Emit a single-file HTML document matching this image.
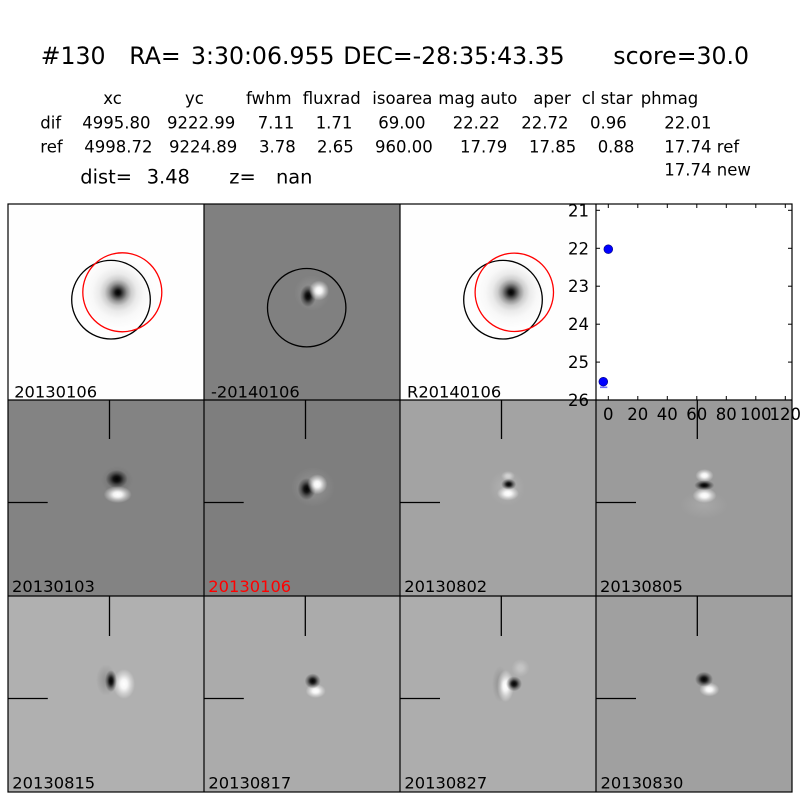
<!DOCTYPE html>
<html>
<head>
<meta charset="utf-8">
<style>
html,body{margin:0;padding:0;background:#fff;}
svg{display:block;}
text{font-family:"DejaVu Sans","Liberation Sans",sans-serif;fill:#000;}
</style>
</head>
<body>
<svg width="800" height="800" viewBox="0 0 800 800" xmlns="http://www.w3.org/2000/svg">
<defs>
  <radialGradient id="star">
    <stop offset="0" stop-color="#000"/>
    <stop offset="0.07" stop-color="#141414"/>
    <stop offset="0.15" stop-color="#505050"/>
    <stop offset="0.25" stop-color="#969696"/>
    <stop offset="0.37" stop-color="#cdcdcd"/>
    <stop offset="0.52" stop-color="#eaeaea"/>
    <stop offset="0.72" stop-color="#f8f8f8"/>
    <stop offset="1" stop-color="#fefefe"/>
  </radialGradient>
  <radialGradient id="dk">
    <stop offset="0" stop-color="#000" stop-opacity="1"/>
    <stop offset="0.3" stop-color="#000" stop-opacity="0.85"/>
    <stop offset="0.65" stop-color="#000" stop-opacity="0.35"/>
    <stop offset="1" stop-color="#000" stop-opacity="0"/>
  </radialGradient>
  <radialGradient id="lt">
    <stop offset="0" stop-color="#fff" stop-opacity="1"/>
    <stop offset="0.3" stop-color="#fff" stop-opacity="0.9"/>
    <stop offset="0.65" stop-color="#fff" stop-opacity="0.4"/>
    <stop offset="1" stop-color="#fff" stop-opacity="0"/>
  </radialGradient>
  <radialGradient id="halo">
    <stop offset="0" stop-color="#000" stop-opacity="0.18"/>
    <stop offset="1" stop-color="#000" stop-opacity="0"/>
  </radialGradient>
  <radialGradient id="lhalo">
    <stop offset="0" stop-color="#fff" stop-opacity="0.18"/>
    <stop offset="1" stop-color="#fff" stop-opacity="0"/>
  </radialGradient>
</defs>

<!-- Header text -->
<g font-size="23.6">
  <text x="40.7" y="64">#130</text>
  <text x="129.3" y="64">RA=</text>
  <text x="191" y="64">3:30:06.955</text>
  <text x="343.3" y="64">DEC=-28:35:43.35</text>
  <text x="613.3" y="64">score=30.0</text>
</g>
<g font-size="16.5">
  <text x="103.3" y="104">xc</text>
  <text x="185" y="104">yc</text>
  <text x="246" y="104">fwhm</text>
  <text x="302.7" y="104">fluxrad</text>
  <text x="372.3" y="104">isoarea</text>
  <text x="438.3" y="104">mag auto</text>
  <text x="533.3" y="104">aper</text>
  <text x="581.7" y="104">cl star</text>
  <text x="640.7" y="104">phmag</text>

  <text x="40.3" y="128.3">dif</text>
  <text x="82.3" y="128.3">4995.80</text>
  <text x="167" y="128.3">9222.99</text>
  <text x="257.7" y="128.3">7.11</text>
  <text x="315.7" y="128.3">1.71</text>
  <text x="378.3" y="128.3">69.00</text>
  <text x="452.7" y="128.3">22.22</text>
  <text x="521.3" y="128.3">22.72</text>
  <text x="590" y="128.3">0.96</text>
  <text x="664.3" y="128.3">22.01</text>

  <text x="40.3" y="152.7">ref</text>
  <text x="84.3" y="152.7">4998.72</text>
  <text x="169" y="152.7">9224.89</text>
  <text x="259" y="152.7">3.78</text>
  <text x="317" y="152.7">2.65</text>
  <text x="375" y="152.7">960.00</text>
  <text x="460" y="152.7">17.79</text>
  <text x="529" y="152.7">17.85</text>
  <text x="597.7" y="152.7">0.88</text>
  <text x="664.3" y="152.7">17.74 ref</text>

  <text x="664.3" y="175.7">17.74 new</text>
</g>
<g font-size="19.4">
  <text x="80.3" y="183.3">dist=</text>
  <text x="146.7" y="183.3">3.48</text>
  <text x="229.3" y="183.3">z=</text>
  <text x="276" y="183.3">nan</text>
</g>

<!-- Row 1 -->
<rect x="8" y="204" width="196" height="196" fill="#fefefe"/>
<circle cx="118" cy="292.5" r="36" fill="url(#star)"/>
<circle cx="111" cy="299.7" r="39.3" fill="none" stroke="#000" stroke-width="1.3"/>
<circle cx="122.3" cy="292.3" r="39.5" fill="none" stroke="#f00" stroke-width="1.3"/>

<rect x="204" y="204" width="196" height="196" fill="#808080"/>
<ellipse cx="312" cy="293" rx="18" ry="18" fill="url(#lhalo)"/>
<ellipse cx="308" cy="296" rx="8" ry="11" fill="url(#dk)"/>
<ellipse cx="319" cy="290.5" rx="10" ry="10" fill="url(#lt)"/>
<circle cx="306.7" cy="307.7" r="39.2" fill="none" stroke="#000" stroke-width="1.3"/>

<rect x="400" y="204" width="196" height="196" fill="#fefefe"/>
<circle cx="511" cy="292.3" r="36" fill="url(#star)"/>
<circle cx="503" cy="299.7" r="39.3" fill="none" stroke="#000" stroke-width="1.3"/>
<circle cx="514.3" cy="292.3" r="39.2" fill="none" stroke="#f00" stroke-width="1.3"/>

<!-- Row 2 -->
<rect x="8" y="400" width="196" height="196" fill="#838383"/>
<ellipse cx="117" cy="480" rx="16" ry="14" fill="url(#halo)"/>
<ellipse cx="116.7" cy="479" rx="11" ry="9" fill="url(#dk)"/>
<ellipse cx="117.7" cy="494.5" rx="14" ry="8.5" fill="url(#lt)"/>

<rect x="204" y="400" width="196" height="196" fill="#7e7e7e"/>
<ellipse cx="313" cy="487" rx="22" ry="20" fill="url(#lhalo)"/>
<ellipse cx="306.7" cy="489" rx="9" ry="11" fill="url(#dk)"/>
<ellipse cx="317.3" cy="484.3" rx="10" ry="10" fill="url(#lt)"/>

<rect x="400" y="400" width="196" height="196" fill="#a3a3a3"/>
<ellipse cx="507" cy="488" rx="18" ry="18" fill="url(#lhalo)"/>
<ellipse cx="508" cy="476" rx="7" ry="5" fill="url(#lt)" opacity="0.5"/>
<ellipse cx="508" cy="493.5" rx="11" ry="7" fill="url(#lt)"/>
<ellipse cx="508.7" cy="484.3" rx="7.5" ry="5.5" fill="url(#dk)"/>

<rect x="596" y="400" width="196" height="196" fill="#9b9b9b"/>
<ellipse cx="704" cy="505" rx="24" ry="14" fill="url(#lhalo)" opacity="0.7"/>
<ellipse cx="704.5" cy="475.5" rx="9" ry="6.5" fill="url(#lt)"/>
<ellipse cx="704.5" cy="495.5" rx="12" ry="7.5" fill="url(#lt)"/>
<ellipse cx="704.3" cy="485.3" rx="10" ry="5" fill="url(#dk)"/>

<!-- Row 3 -->
<rect x="8" y="596" width="196" height="196" fill="#b0b0b0"/>
<ellipse cx="106" cy="680" rx="10" ry="16" fill="url(#halo)"/>
<ellipse cx="124" cy="684" rx="11" ry="15" fill="url(#lt)"/>
<ellipse cx="111" cy="681" rx="6" ry="11" fill="url(#dk)"/>

<rect x="204" y="596" width="196" height="196" fill="#ababab"/>
<ellipse cx="315.7" cy="691" rx="10" ry="7" fill="url(#lt)"/>
<ellipse cx="312.7" cy="681" rx="8" ry="7.5" fill="url(#dk)"/>

<rect x="400" y="596" width="196" height="196" fill="#adadad"/>
<ellipse cx="500" cy="684" rx="8" ry="18" fill="url(#halo)"/>
<ellipse cx="520.5" cy="668" rx="9" ry="9" fill="url(#lt)" opacity="0.3"/>
<ellipse cx="505.5" cy="686" rx="8.5" ry="16" fill="url(#lt)"/>
<ellipse cx="514" cy="683.8" rx="8" ry="7.5" fill="url(#dk)"/>

<rect x="596" y="596" width="196" height="196" fill="#a0a0a0"/>
<ellipse cx="709.3" cy="689.5" rx="10" ry="7" fill="url(#lt)"/>
<ellipse cx="704" cy="679.3" rx="9" ry="7.5" fill="url(#dk)"/>

<!-- Crosshairs -->
<g stroke="#000" stroke-width="1.3">
  <line x1="109.5" y1="400" x2="109.5" y2="439"/>
  <line x1="8" y1="502.5" x2="47.7" y2="502.5"/>
  <line x1="305.5" y1="400" x2="305.5" y2="439"/>
  <line x1="204" y1="502.5" x2="243.7" y2="502.5"/>
  <line x1="501.5" y1="400" x2="501.5" y2="439"/>
  <line x1="400" y1="502.5" x2="440" y2="502.5"/>
  <line x1="697.3" y1="400" x2="697.3" y2="439"/>
  <line x1="596" y1="502.5" x2="636" y2="502.5"/>

  <line x1="109.5" y1="596" x2="109.5" y2="636"/>
  <line x1="8" y1="698.5" x2="47.8" y2="698.5"/>
  <line x1="305.3" y1="596" x2="305.3" y2="636"/>
  <line x1="204" y1="698.5" x2="243.8" y2="698.5"/>
  <line x1="501.3" y1="596" x2="501.3" y2="636"/>
  <line x1="400" y1="698.5" x2="440" y2="698.5"/>
  <line x1="697.3" y1="596" x2="697.3" y2="636"/>
  <line x1="596" y1="698.5" x2="636" y2="698.5"/>
</g>

<!-- Plot panel D -->
<rect x="596" y="204" width="196" height="196" fill="#fff"/>
<line x1="600" y1="387.3" x2="607.3" y2="387.3" stroke="#6f6fff" stroke-width="1.6"/>
<circle cx="608.3" cy="249.2" r="4.4" fill="#0000ff" stroke="#00007a" stroke-width="0.6"/>
<circle cx="603.3" cy="381.7" r="4.4" fill="#0000ff" stroke="#00007a" stroke-width="0.6"/>
<g stroke="#000" stroke-width="1">
  <line x1="596" y1="210.3" x2="600" y2="210.3"/><line x1="792" y1="210.3" x2="788" y2="210.3"/>
  <line x1="596" y1="248.3" x2="600" y2="248.3"/><line x1="792" y1="248.3" x2="788" y2="248.3"/>
  <line x1="596" y1="286.2" x2="600" y2="286.2"/><line x1="792" y1="286.2" x2="788" y2="286.2"/>
  <line x1="596" y1="324.2" x2="600" y2="324.2"/><line x1="792" y1="324.2" x2="788" y2="324.2"/>
  <line x1="596" y1="362.1" x2="600" y2="362.1"/><line x1="792" y1="362.1" x2="788" y2="362.1"/>
  <line x1="608.3" y1="204" x2="608.3" y2="208"/><line x1="608.3" y1="400" x2="608.3" y2="396"/>
  <line x1="637.8" y1="204" x2="637.8" y2="208"/><line x1="637.8" y1="400" x2="637.8" y2="396"/>
  <line x1="667.3" y1="204" x2="667.3" y2="208"/><line x1="667.3" y1="400" x2="667.3" y2="396"/>
  <line x1="696.8" y1="204" x2="696.8" y2="208"/><line x1="696.8" y1="400" x2="696.8" y2="396"/>
  <line x1="726.3" y1="204" x2="726.3" y2="208"/><line x1="726.3" y1="400" x2="726.3" y2="396"/>
  <line x1="755.8" y1="204" x2="755.8" y2="208"/><line x1="755.8" y1="400" x2="755.8" y2="396"/>
  <line x1="785.3" y1="204" x2="785.3" y2="208"/><line x1="785.3" y1="400" x2="785.3" y2="396"/>
</g>

<!-- Grid frames -->
<g stroke="#000" stroke-width="1.2" fill="none">
  <rect x="8" y="204" width="784" height="588"/>
  <line x1="8" y1="400" x2="792" y2="400"/>
  <line x1="8" y1="596" x2="792" y2="596"/>
  <line x1="204" y1="204" x2="204" y2="792"/>
  <line x1="400" y1="204" x2="400" y2="792"/>
  <line x1="596" y1="204" x2="596" y2="792"/>
</g>

<!-- Plot tick labels -->
<g font-size="16.5" text-anchor="end">
  <text x="589" y="216.3">21</text>
  <text x="589" y="254.3">22</text>
  <text x="589" y="292.2">23</text>
  <text x="589" y="330.2">24</text>
  <text x="589" y="368.1">25</text>
  <text x="589" y="406.1">26</text>
</g>
<g font-size="16.5" text-anchor="middle">
  <text x="608.3" y="420">0</text>
  <text x="637.8" y="420">20</text>
  <text x="667.3" y="420">40</text>
  <text x="696.8" y="420">60</text>
  <text x="726.3" y="420">80</text>
  <text x="755.8" y="420">100</text>
  <text x="785.3" y="420">120</text>
</g>

<!-- Panel labels -->
<g font-size="16.3">
  <text x="14.2" y="397.5">20130106</text>
  <text x="211" y="397.5">-20140106</text>
  <text x="407" y="397.5">R20140106</text>

  <text x="12" y="592">20130103</text>
  <text x="208.3" y="592" style="fill:#f00">20130106</text>
  <text x="404.3" y="592">20130802</text>
  <text x="600" y="592">20130805</text>

  <text x="12.3" y="788.5">20130815</text>
  <text x="208.4" y="788.5">20130817</text>
  <text x="404.4" y="788.5">20130827</text>
  <text x="600.5" y="788.5">20130830</text>
</g>
</svg>
</body>
</html>
